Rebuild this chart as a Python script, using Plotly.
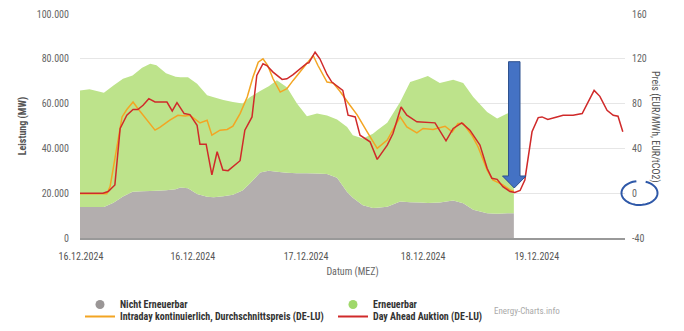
import numpy as np
import plotly.graph_objects as go

# ---------------- data ----------------
# hours since the start of the displayed window
area_hours = [0, 2, 5, 7, 9, 11, 13, 14.7, 16, 18, 20, 21, 22.6, 24.5, 26.6, 28, 30, 32, 34,
              35.6, 37.7, 39.5, 41.2, 43.3, 45.4, 47.5, 49.6, 51.7, 53.8, 55.9, 57.1, 59.2,
              61.3, 62.2, 64.3, 67, 69.1, 71.2, 72.8, 75.3, 78.1, 80.2, 82.3, 85.2, 87.3,
              89.4, 90.8]
nicht_erneuerbar = [13800, 13800, 13800, 15700, 18500, 20600, 20900, 21000, 21100, 21300,
                    21800, 22500, 22200, 19600, 18400, 18200, 18600, 19300, 21200, 24400,
                    29200, 30000, 29600, 29100, 28900, 28900, 28800, 28600, 26900, 20500,
                    18000, 14600, 13400, 13500, 14000, 16300, 16000, 15800, 15600, 15900,
                    16700, 15500, 12600, 11100, 10800, 11000, 11100]
erneuerbar = [52100, 52600, 51000, 52400, 52600, 52000, 55100, 56800, 56000, 52300, 50200,
              49300, 49600, 49300, 45300, 44600, 43000, 41400, 38900, 38500, 36400, 37800,
              40800, 38200, 31100, 25500, 26800, 26100, 26000, 29100, 27900, 29800, 33100,
              34600, 37500, 44400, 53600, 55300, 56700, 53300, 54000, 53700, 50300, 45200,
              42500, 44600, 45200]

intraday_hours = [0, 5.6, 6.3, 7.3, 8.8, 9.8, 11.1, 12.1, 14.0, 15.7, 16.7, 18.8, 20.5, 22.0,
                  23.0, 25.1, 26.6, 27.6, 29.3, 30.8, 32.0, 33.5, 35.0, 36.2, 37.3, 38.3,
                  39.3, 40.4, 41.9, 43.3, 44.6, 46.0, 47.5, 48.8, 49.8, 51.7, 53.0, 54.4,
                  56.5, 58.0, 60.1, 62.2, 64.3, 67.0, 68.4, 70.5, 71.8, 73.9, 76.4, 77.9,
                  79.1, 80.2, 82.0, 83.3, 85.2, 86.4, 88.5, 90.0, 90.8]
intraday_price = [-0.5, -0.5, 5.9, 29.6, 68.1, 74.7, 81.4, 75.6, 65.2, 56.3, 58.7, 65.2,
                  69.6, 69.0, 69.6, 62.8, 65.2, 51.8, 56.3, 56.9, 59.8, 71.1, 85.9, 103.7,
                  117.0, 120.0, 114.0, 102.2, 90.3, 93.3, 100.7, 108.1, 117.0, 122.9, 114.0,
                  99.2, 98.3, 91.0, 78.5, 70.0, 54.8, 40.0, 47.4, 68.1, 59.2, 53.9, 57.8,
                  56.9, 59.8, 54.8, 62.2, 62.2, 51.8, 41.5, 20.7, 11.8, 7.4, 3.0, 1.5]

dayahead_hours = [0, 2.7, 4.8, 5.9, 7.3, 8.4, 9.8, 11.1, 12.1, 13.2, 14.4, 15.7, 18.2, 19.3,
                  20.3, 21.8, 23.0, 24.5, 25.1, 26.4, 27.6, 28.7, 29.9, 31.0, 33.5, 34.5,
                  36.0, 37.0, 38.3, 39.1, 40.4, 42.3, 43.3, 44.6, 46.0, 47.5, 47.9, 49.2,
                  50.2, 51.7, 52.7, 54.4, 55.0, 56.1, 57.6, 58.6, 60.7, 62.2, 64.3, 65.5,
                  67.2, 68.4, 70.5, 74.3, 76.6, 78.1, 79.9, 81.6, 83.7, 85.2, 86.2, 87.3,
                  88.5, 90.0, 91.0, 92.1, 93.1, 94.6, 95.9, 96.7, 97.9, 99.8, 101.1, 103.2,
                  105.1, 107.6, 108.8, 110.3, 111.6, 112.6, 113.6]
dayahead_price = [0, 0, 0, 1.5, 7.4, 57.8, 69.6, 74.7, 74.7, 78.5, 84.4, 81.4, 81.4, 73.4,
                  80.9, 71.1, 70.2, 60.7, 43.8, 43.8, 16.3, 37.0, 20.7, 20.1, 29.0, 56.3,
                  68.1, 105.2, 115.6, 114.0, 108.1, 101.6, 102.1, 105.8, 110.5, 116.1, 116.4,
                  125.9, 120.0, 106.0, 99.2, 93.3, 91.8, 69.6, 68.1, 51.8, 45.9, 30.2, 42.9,
                  53.3, 77.0, 69.6, 63.7, 62.8, 46.8, 57.8, 62.8, 56.3, 42.9, 22.2, 13.3,
                  12.4, 5.9, 1.5, 0.6, 2.4, 11.8, 54.8, 67.5, 68.1, 65.8, 68.1, 69.6, 69.6,
                  71.1, 91.8, 86.5, 74.0, 69.6, 68.7, 54.8]

tick_hours = [0.2, 23.6, 47.3, 71.8, 95.6]
tick_labels = ["16.12.2024", "16.12.2024", "17.12.2024", "18.12.2024", "19.12.2024"]
price_ticks = [-40, 0, 40, 80, 120, 160]
price_labels = ["-40", "0", "40", "80", "120", "160"]

# ---------------- styling ----------------
W, H = 684, 331
ML, MR, MT, MB = 80, 59, 14, 93
PW, PH = W - ML - MR, H - MT - MB
FONT = "Liberation Sans Narrow, Roboto Condensed, Roboto, sans-serif"
GRAY = "#b3aeae"
GREEN = "#bde38b"
RED = "#d02a2a"
ORANGE = "#f3a523"
BLUE = "#4472c4"


def px_to_paper(px, py):
    return (px - ML) / PW, (MT + PH - py) / PH


fig = go.Figure()
fig.add_trace(go.Scatter(x=area_hours, y=nicht_erneuerbar, stackgroup="p", mode="none",
                         fillcolor=GRAY, showlegend=False, name="Nicht Erneuerbar"))
fig.add_trace(go.Scatter(x=area_hours, y=erneuerbar, stackgroup="p", mode="none",
                         fillcolor=GREEN, showlegend=False, name="Erneuerbar"))
fig.add_trace(go.Scatter(x=intraday_hours, y=intraday_price, yaxis="y2", mode="lines",
                         line=dict(color=ORANGE, width=1.5), showlegend=False,
                         name="Intraday kontinuierlich, Durchschnittspreis (DE-LU)"))
fig.add_trace(go.Scatter(x=dayahead_hours, y=dayahead_price, yaxis="y2", mode="lines",
                         line=dict(color=RED, width=1.5), showlegend=False,
                         name="Day Ahead Auktion (DE-LU)"))

# legend entries (two one-row legends to get the tight row spacing)
fig.add_trace(go.Scatter(x=[None], y=[None], mode="markers", name="Nicht Erneuerbar",
                         marker=dict(color="#9a9696", size=9, symbol="circle"),
                         legend="legend"))
fig.add_trace(go.Scatter(x=[None], y=[None], mode="markers", name="Erneuerbar",
                         marker=dict(color="#9fd86a", size=9, symbol="circle"),
                         legend="legend"))
fig.add_trace(go.Scatter(x=[None], y=[None], mode="lines",
                         name="Intraday kontinuierlich, Durchschnittspreis (DE-LU)",
                         line=dict(color=ORANGE, width=2), legend="legend2"))
fig.add_trace(go.Scatter(x=[None], y=[None], mode="lines", name="Day Ahead Auktion (DE-LU)",
                         line=dict(color=RED, width=2), legend="legend2"))

# blue arrow (annotation drawn over the chart)
sx0, sx1 = 508.5, 520
hx0, hx1 = 502.5, 526
ytop, yhead, ytip = 61.7, 176, 188
pts = [(sx0, ytop), (sx1, ytop), (sx1, yhead), (hx1, yhead), ((hx0 + hx1) / 2, ytip),
       (hx0, yhead), (sx0, yhead)]
path = ""
for i, (a, b) in enumerate(pts):
    u, v = px_to_paper(a, b)
    path += ("M" if i == 0 else "L") + f"{u:.5f},{v:.5f}"
path += "Z"
fig.add_shape(type="path", path=path, xref="paper", yref="paper",
              fillcolor=BLUE, line=dict(color="#2f528f", width=1), layer="above")

# hand-drawn circle around the 0 price label
cx, cy, rx, ry = 639.5, 193, 18, 12
ang = np.linspace(np.deg2rad(100), np.deg2rad(100 + 330), 60)
cpath = ""
for i, t in enumerate(ang):
    u, v = px_to_paper(cx + rx * np.cos(t), cy - ry * np.sin(t))
    cpath += ("M" if i == 0 else "L") + f"{u:.5f},{v:.5f}"
fig.add_shape(type="path", path=cpath, xref="paper", yref="paper",
              line=dict(color="#2e58a8", width=2), layer="above")

fig.add_annotation(text="Preis (EUR/MWh, EUR/tCO2)", textangle=90, showarrow=False,
                   xref="paper", yref="paper", x=(663 - ML) / PW, y=0.496,
                   font=dict(size=10, color="#555", family=FONT))
fig.add_annotation(text="Energy-Charts.info", showarrow=False, xref="paper", yref="paper",
                   x=(562 - ML) / PW, y=(MT + PH - 318) / PH,
                   font=dict(size=9, color="#aaa", family=FONT))

legend_common = dict(orientation="h", x=0, xanchor="left", yanchor="top",
                     entrywidth=208, entrywidthmode="pixels", traceorder="normal",
                     font=dict(size=10, color="#333", family=FONT, weight="bold"),
                     itemwidth=30, bgcolor="rgba(0,0,0,0)")

fig.update_layout(
    width=W, height=H, margin=dict(l=ML, r=MR, t=MT, b=MB, autoexpand=False),
    paper_bgcolor="white", plot_bgcolor="white", separators=",.",
    font=dict(family=FONT, size=10, color="#666"),
    xaxis=dict(range=[0, 114.06], tickvals=tick_hours, ticktext=tick_labels,
               showgrid=False, zeroline=False, showline=True, linecolor="#999", linewidth=2,
               ticks="", ticklabelstandoff=8, tickfont=dict(size=10, color="#555"),
               title=dict(text="Datum (MEZ)", standoff=7, font=dict(size=10, color="#666"))),
    yaxis=dict(range=[0, 100000], dtick=20000, tickformat=",d", showgrid=True,
               gridcolor="#e6e6e6", zeroline=False, ticks="", ticklabelstandoff=10,
               tickfont=dict(size=10, color="#666"),
               title=dict(text="<b>Leistung (MW)</b>", standoff=8,
                          font=dict(size=10, color="#555"))),
    yaxis2=dict(range=[-40, 160], overlaying="y", side="right", tickvals=price_ticks,
                ticktext=price_labels, showgrid=False, zeroline=False, ticks="",
                ticklabelstandoff=6, tickfont=dict(size=10, color="#666")),
    legend=dict(legend_common, y=(MT + PH - 290) / PH),
    legend2=dict(legend_common, y=(MT + PH - 302) / PH),
    showlegend=True,
)

fig.write_html("out.html")
